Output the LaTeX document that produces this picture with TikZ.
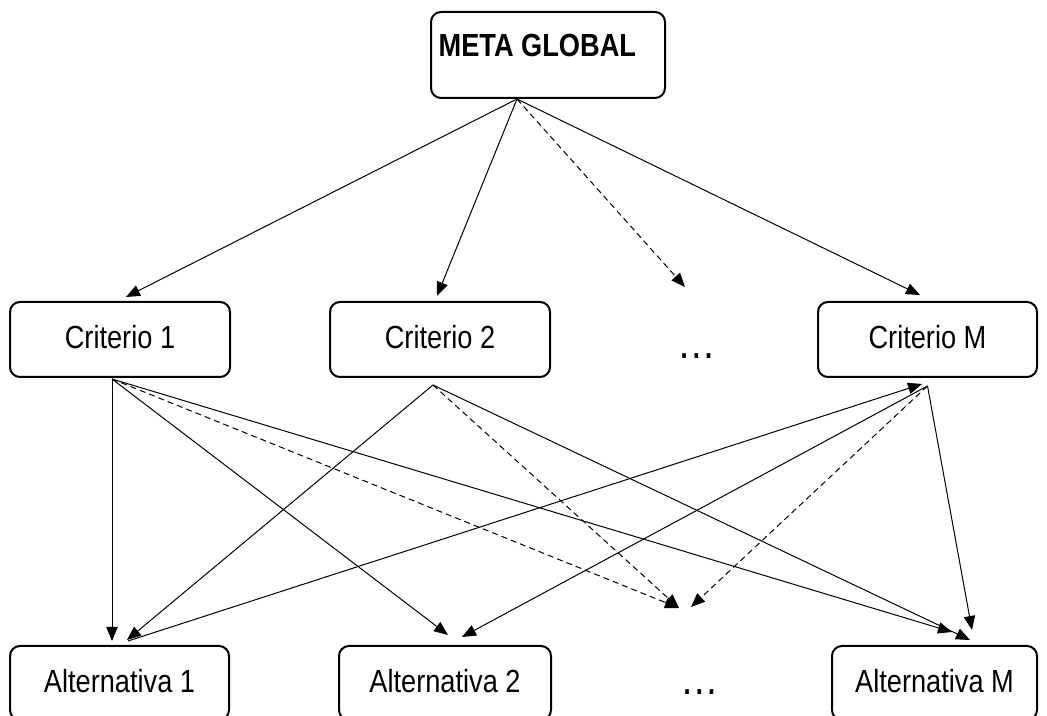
\documentclass[tikz,border=0pt]{standalone}
\usepackage{fontspec}
\setmainfont{Liberation Sans}[FakeStretch=0.85]
\usetikzlibrary{arrows.meta}
\tikzset{
    rounded-box/.style = {draw=black, fill=white, line width=1.5pt, rectangle, rounded corners=7.5pt, font=\fontsize{24}{28}\selectfont, text height=17pt, text depth=3pt, minimum height=56.25pt},
    rounded-box-goal/.style = {rounded-box, font=\fontsize{24}{28}\selectfont\bfseries, text depth=14pt, minimum height=64.5pt},
    dots-text/.style = {font=\fontsize{34}{36}\selectfont, anchor=base, inner sep=0pt},
    arrow-line/.style = {-{Triangle[length=10.5pt,width=8.5pt]}, line width=0.75pt},
    arrow-line-dashed/.style = {arrow-line, dash pattern=on 4.5pt off 3pt},
}

\begin{document}
\begin{tikzpicture}[x=0.75pt, y=-0.75pt]
\useasboundingbox (0,0) rectangle (1047,716);

\node[rounded-box-goal, minimum width=175.5pt] (meta) at (548,55) {META GLOBAL\hspace*{16pt}};

\node[rounded-box, minimum width=165pt] (crit1) at (120,339.5) {Criterio 1};
\node[rounded-box, minimum width=165pt] (crit2) at (440,339.5) {Criterio 2};
\node[dots-text] (crit-dots) at (697,359) {…};
\node[rounded-box, minimum width=164.25pt] (critM) at (927.5,339.5) {Criterio M};

\node[rounded-box, minimum width=164.25pt, minimum height=55.5pt] (alt1) at (119.5,683) {Alternativa 1};
\node[rounded-box, minimum width=159pt, minimum height=55.5pt] (alt2) at (445,683) {Alternativa 2};
\node[dots-text] (alt-dots) at (700,695) {…};
\node[rounded-box, minimum width=153.75pt, minimum height=55.5pt] (altM) at (934.5,683) {Alternativa M};

\coordinate (meta-out) at ([shift={(-31,0)}]meta.south);
\coordinate (crit-mid) at (685,287);
\coordinate (crit1-out) at ([shift={(-8,1)}]crit1.south);
\coordinate (crit2-out) at ([shift={(-7,7)}]crit2.south);
\coordinate (critM-out) at ([shift={(0,8)}]critM.south);
\coordinate (alt-mid-a) at (679,608);
\coordinate (alt-mid-b) at (691,607);

\draw[arrow-line] (meta-out) -- ([shift={(6,-4)}]crit1.north);
\draw[arrow-line] (meta-out) -- ([shift={(-3,-5)}]crit2.north);
\draw[arrow-line-dashed] (meta-out) -- (crit-mid);
\draw[arrow-line] (meta-out) -- ([shift={(-7.5,-6)}]critM.north);

\draw[arrow-line] (crit1-out) -- ([shift={(-7.5,-4)}]alt1.north);
\draw[arrow-line] (crit1-out) -- ([shift={(3,-10)}]alt2.north);
\draw[arrow-line-dashed] (crit1-out) -- (alt-mid-a);
\draw[arrow-line] (crit1-out) -- ([shift={(17.5,-13)}]altM.north);

\draw[arrow-line] (crit2-out) -- ([shift={(7.5,-5)}]alt1.north);
\draw[arrow-line-dashed] (crit2-out) -- (alt-mid-a);
\draw[arrow-line] (crit2-out) -- ([shift={(35.5,-5)}]altM.north);

\draw[arrow-line] ([shift={(8.5,-4)}]alt1.north) -- ([shift={(-5.5,6)}]critM.south);
\draw[arrow-line] (critM-out) -- ([shift={(17,-8)}]alt2.north);
\draw[arrow-line-dashed] (critM-out) -- (alt-mid-b);
\draw[arrow-line] (critM-out) -- ([shift={(37.5,-15)}]altM.north);
\end{tikzpicture}
\end{document}
